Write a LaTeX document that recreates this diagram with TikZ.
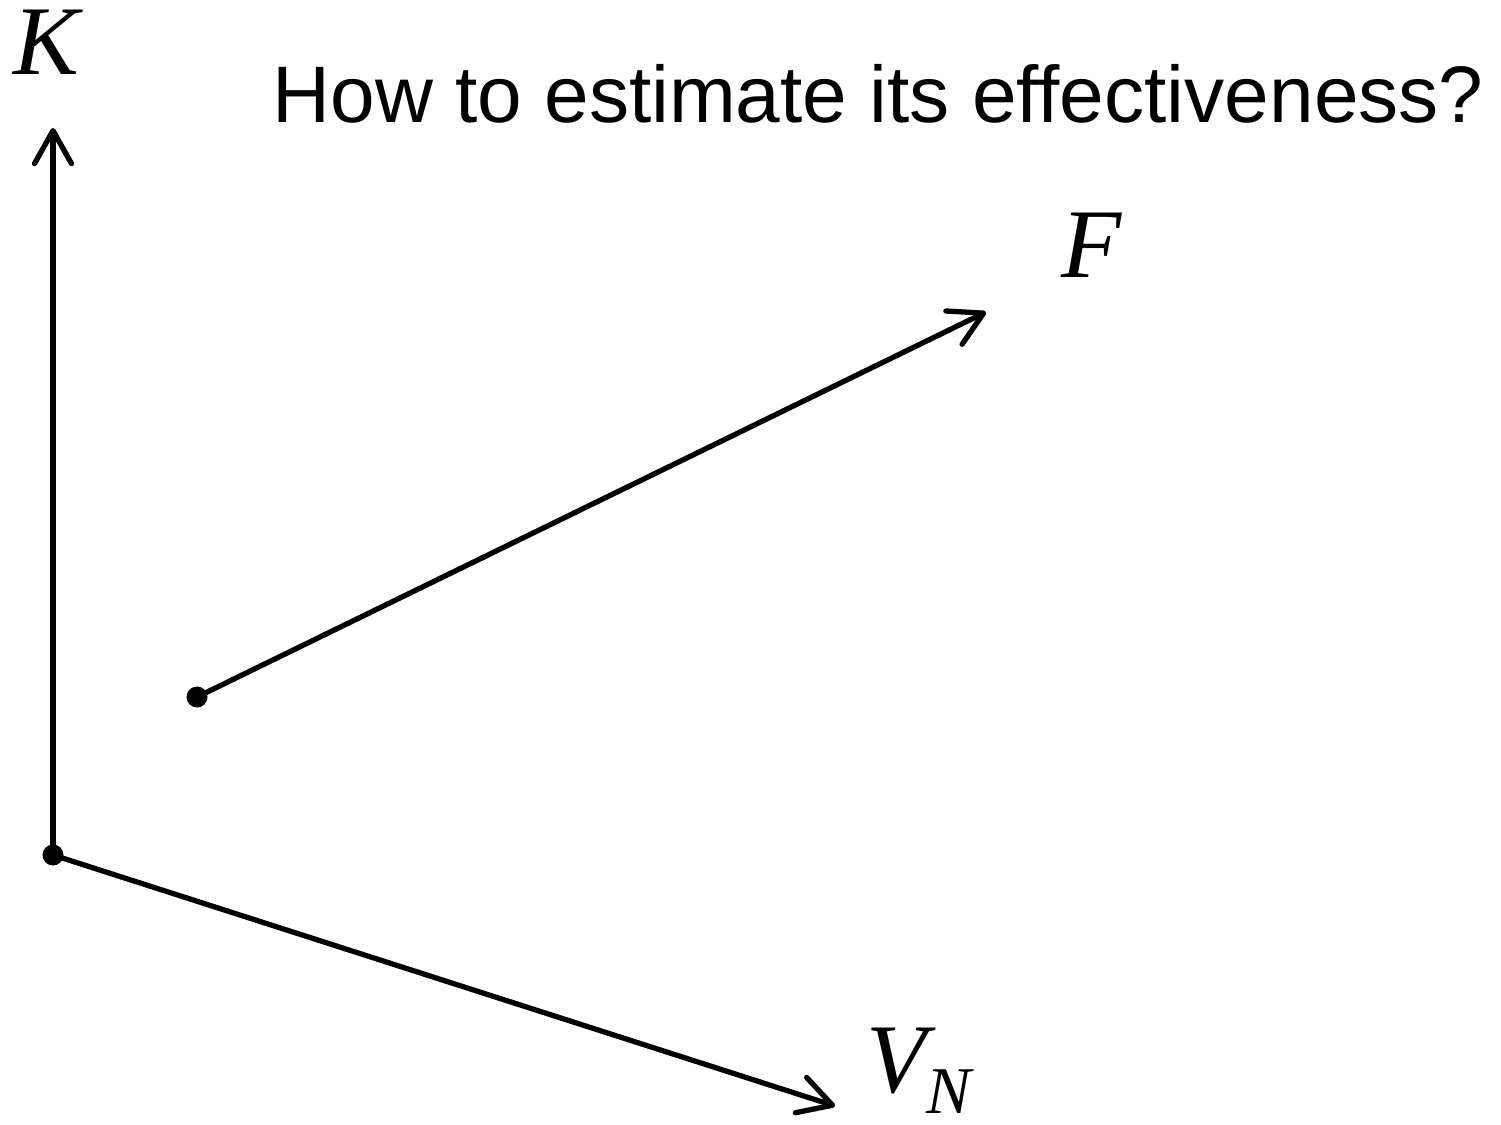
\documentclass[tikz,border=0pt]{standalone}
\usepackage{fontspec}
\usepackage{tikz}
\usetikzlibrary{arrows.meta}
\setmainfont{Liberation Serif}
\newfontfamily\titlefont{Liberation Sans}
\newcommand{\lblfont}{\fontsize{28}{28}\selectfont\itshape}

\begin{document}
\begin{tikzpicture}[x=0.01cm,y=-0.01cm,
    axis/.style={line width=1.5pt,line cap=round,line join=round,-{Straight Barb[length=3.3mm,width=3.7mm,line cap=round,line join=round]}},
    pt/.style={circle,fill=black,inner sep=0pt,minimum size=0.21cm},
    lbl/.style={inner sep=0pt,font=\lblfont}]
        \useasboundingbox (0,0) rectangle (1501,1125);
        \node[pt] (origin) at (53,855) {};
        \node[pt] (start) at (197,697) {};
        \coordinate (ktip) at (53,128);
        \coordinate (vtip) at (835,1106);
        \coordinate (ftip) at (986,312);
        \draw[axis] (origin.center) -- (ktip);
        \draw[axis] (origin.center) -- (vtip);
        \draw[axis] (start.center) -- (ftip);
        \node[lbl,anchor=base] (klabel) at (46,75) {K};
        \node[lbl,anchor=base] (flabel) at (1092,278) {F};
        \node[lbl,anchor=base west] (vlabel) at (866,1092) {V\raisebox{-0.21cm}{\fontsize{19}{19}\selectfont N}};
        \node[anchor=base west,inner sep=0pt,font=\titlefont\fontsize{22.8}{22.8}\selectfont] (question) at (272,123) {How to estimate its effectiveness?};
      \end{tikzpicture}
\end{document}
